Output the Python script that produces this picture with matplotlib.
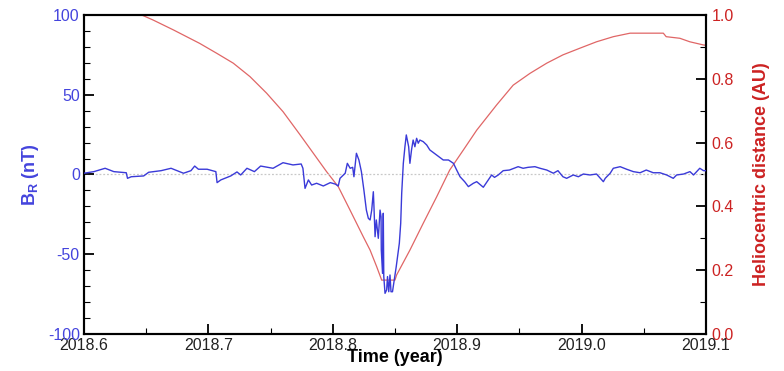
import numpy as np
import matplotlib.pyplot as plt
from matplotlib.ticker import MultipleLocator

plt.rcParams['font.family'] = ['Liberation Sans', 'DejaVu Sans']
plt.rcParams['axes.unicode_minus'] = False

# radial magnetic field B_R (nT)
t_b = [2018.600, 2018.608, 2018.617, 2018.624, 2018.634, 2018.635, 2018.638, 2018.648,
       2018.652, 2018.662, 2018.670, 2018.680, 2018.686, 2018.689, 2018.692, 2018.699,
       2018.706, 2018.707, 2018.710, 2018.718, 2018.723, 2018.726, 2018.731, 2018.737,
       2018.742, 2018.752, 2018.760, 2018.768, 2018.7746, 2018.776, 2018.7777, 2018.7804,
       2018.783, 2018.787, 2018.7924, 2018.798, 2018.802, 2018.8044, 2018.8058, 2018.810,
       2018.8117, 2018.814, 2018.816, 2018.817, 2018.819, 2018.821, 2018.823, 2018.825,
       2018.827, 2018.8286, 2018.830, 2018.8313, 2018.8326, 2018.833, 2018.834, 2018.835,
       2018.8366, 2018.838, 2018.8388, 2018.839, 2018.840, 2018.8406, 2018.841, 2018.842,
       2018.8433, 2018.844, 2018.845, 2018.846, 2018.8468, 2018.848, 2018.849, 2018.851,
       2018.8535, 2018.8546, 2018.8554, 2018.8567, 2018.858, 2018.8591, 2018.861, 2018.862,
       2018.8633, 2018.8646, 2018.866, 2018.8674, 2018.8687, 2018.870, 2018.8727, 2018.8755,
       2018.878, 2018.8835, 2018.8888, 2018.893, 2018.897, 2018.8996, 2018.9023, 2018.906,
       2018.909, 2018.913, 2018.9157, 2018.921, 2018.925, 2018.9277, 2018.930, 2018.933,
       2018.937, 2018.942, 2018.949, 2018.953, 2018.957, 2018.9625, 2018.9666, 2018.972,
       2018.9773, 2018.981, 2018.985, 2018.988, 2018.9933, 2018.9974, 2019.0014, 2019.0068,
       2019.012, 2019.0175, 2019.019, 2019.023, 2019.0255, 2019.031, 2019.0362, 2019.0416,
       2019.047, 2019.052, 2019.0576, 2019.063, 2019.0684, 2019.0737, 2019.0764, 2019.082,
       2019.0871, 2019.090, 2019.095, 2019.098, 2019.100]
b_r = [0.8, 1.8, 3.9, 1.8, 1.1, -2.4, -1.4, -0.9,
       1.4, 2.4, 3.9, 0.8, 2.4, 5.3, 3.3, 3.3,
       1.8, -5.1, -3.4, -0.9, 1.6, -0.3, 3.9, 1.8,
       5.3, 3.9, 7.4, 6.0, 6.6, 3.9, -8.7, -3.4,
       -6.6, -5.5, -7.2, -5.1, -6.0, -7.2, -2.4, 0.8,
       7.0, 3.9, 4.5, -1.4, 13.3, 9.1, 1.8, -9.7,
       -22.3, -27.5, -28.5, -22.3, -10.8, -18.0, -39.0, -28.5,
       -40.0, -22.3, -26.5, -47.3, -62.0, -24.3, -64.0, -74.5,
       -72.4, -64.0, -73.5, -63.0, -73.5, -73.5, -68.2, -57.8,
       -43.1, -30.6, -11.8, 7.0, 17.4, 24.8, 17.4, 7.0,
       15.4, 21.6, 17.4, 22.7, 19.6, 21.6, 20.6, 18.5,
       15.4, 12.2, 9.1, 9.1, 7.0, 2.8, -1.4, -4.5,
       -7.6, -5.5, -4.5, -8.0, -3.4, -0.3, -1.8, -0.3,
       2.4, 2.8, 4.9, 3.9, 4.5, 4.9, 3.9, 2.8,
       0.8, 2.4, -1.4, -2.4, -0.3, -1.4, 0.3, -0.3,
       0.3, -4.5, -2.4, 0.8, 3.9, 4.9, 3.3, 1.8,
       1.1, 2.8, 1.1, 1.1, -0.3, -2.4, -0.3, 0.3,
       1.8, -0.3, 3.9, 2.4, 2.4]

# heliocentric distance (AU)
t_r = [2018.6464, 2018.6557, 2018.672, 2018.693, 2018.7067, 2018.720, 2018.7334, 2018.7468,
       2018.760, 2018.7736, 2018.795, 2018.8044, 2018.8138, 2018.8245, 2018.830, 2018.8353,
       2018.8393, 2018.850, 2018.8513, 2018.862, 2018.8727, 2018.8835, 2018.894, 2018.905,
       2018.9157, 2018.9317, 2018.945, 2018.9585, 2018.972, 2018.985, 2018.9987, 2019.012,
       2019.0255, 2019.039, 2019.0657, 2019.068, 2019.079, 2019.087, 2019.098, 2019.100]
r_au = [1.0, 0.984, 0.953, 0.911, 0.880, 0.849, 0.807, 0.755,
        0.697, 0.625, 0.509, 0.462, 0.389, 0.305, 0.263, 0.211,
        0.169, 0.169, 0.185, 0.263, 0.347, 0.430, 0.514, 0.577,
        0.639, 0.718, 0.780, 0.817, 0.849, 0.875, 0.896, 0.916,
        0.932, 0.943, 0.943, 0.932, 0.927, 0.916, 0.906, 0.905]

blue = '#4444dd'
red = '#cc2222'

fig = plt.figure(figsize=(7.84, 3.71), dpi=100)
ax = fig.add_axes([0.1071, 0.0997, 0.7934, 0.8599])
ax2 = ax.twinx()

ax.axhline(0, color='#c8c8c8', lw=0.9, ls=(0, (1.5, 1.5)), zorder=1)
ax.plot(t_b, b_r, color='#3a3ad8', lw=1.0, zorder=3)
ax2.plot(t_r, r_au, color='#e06666', lw=0.9)
ax.set_zorder(ax2.get_zorder() + 1)
ax.patch.set_visible(False)

ax.set_xlim(2018.6, 2019.1)
ax.set_ylim(-100, 100)
ax2.set_ylim(0, 1)

ax.xaxis.set_major_locator(MultipleLocator(0.1))
ax.xaxis.set_minor_locator(MultipleLocator(0.05))
ax.yaxis.set_major_locator(MultipleLocator(50))
ax.yaxis.set_minor_locator(MultipleLocator(10))
ax2.yaxis.set_major_locator(MultipleLocator(0.2))
ax2.yaxis.set_minor_locator(MultipleLocator(0.1))
ax.xaxis.set_major_formatter(plt.FuncFormatter(lambda v, p: '%.1f' % v))
ax2.yaxis.set_major_formatter(plt.FuncFormatter(lambda v, p: '%.1f' % v))

ax.tick_params(axis='x', which='both', direction='in', top=False, labelsize=11.5,
               pad=3, colors='black', labelcolor='#222222')
ax.tick_params(axis='x', which='major', length=7, width=1.3)
ax.tick_params(axis='x', which='minor', length=4, width=0.8)
ax.tick_params(axis='y', which='both', direction='in', labelsize=11.5,
               labelcolor=blue, color='black', pad=3)
ax.tick_params(axis='y', which='major', length=7, width=1.3)
ax.tick_params(axis='y', which='minor', length=4, width=0.8)
ax2.tick_params(axis='y', which='both', direction='in', labelsize=11.5,
                labelcolor=red, color='black', pad=4)
ax2.tick_params(axis='y', which='major', length=7, width=1.3)
ax2.tick_params(axis='y', which='minor', length=4, width=0.8)

for a in (ax, ax2):
    for s in a.spines.values():
        s.set_linewidth(1.5)
        s.set_color('black')

ax.set_xlabel('Time (year)', fontsize=13, fontweight='bold', labelpad=-3)
ax.set_ylabel(r'B$_\mathregular{R}$ (nT)', fontsize=13, fontweight='bold',
              color=blue, labelpad=5)
ax2.set_ylabel('Heliocentric distance (AU)', fontsize=13, fontweight='bold',
               color=red, labelpad=14)

fig.savefig('out.png', dpi=100)
